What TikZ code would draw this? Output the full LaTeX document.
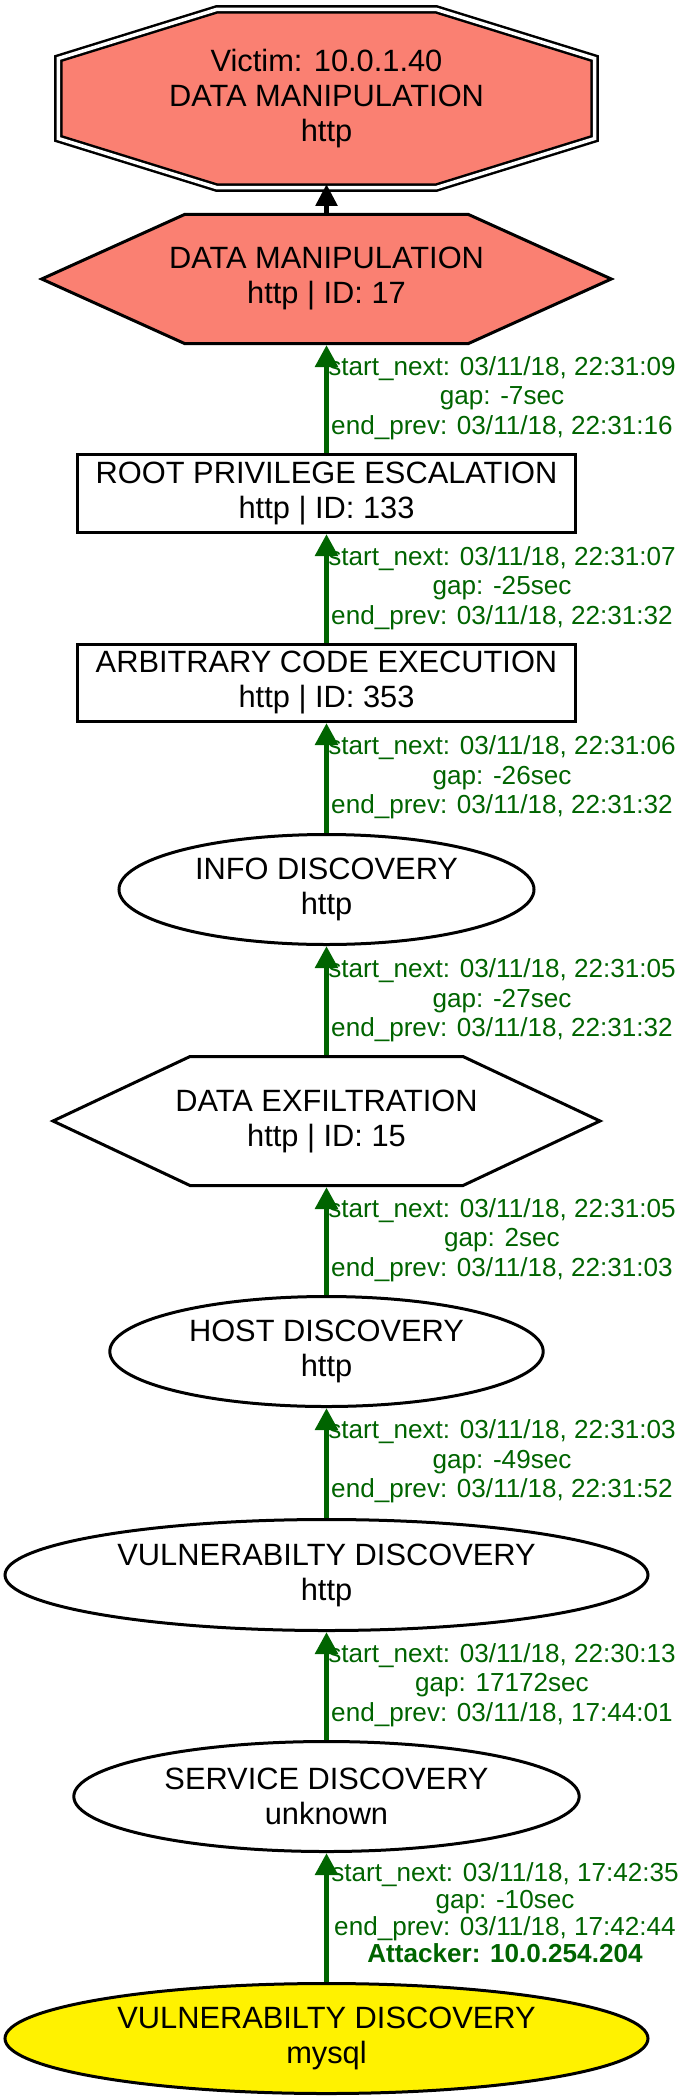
\documentclass[tikz,border=0pt]{standalone}
\usepackage{fontspec}
\setmainfont{Liberation Sans}
\usetikzlibrary{arrows.meta,shapes.geometric}
\definecolor{salmon}{RGB}{250,128,114}
\definecolor{edgegreen}{RGB}{0,100,0}
\begin{document}
\begin{tikzpicture}[x=1pt,y=-1pt,
  ntext/.style={font=\fontsize{30.8pt}{35pt}\selectfont, align=center, inner sep=0pt},
  ell/.style={ntext, ellipse, draw, line width=3pt},
  box/.style={ntext, rectangle, draw, line width=3pt},
  poly/.style={draw, line width=3pt},
  elab/.style={font=\fontsize{26.1pt}{29.5pt}\selectfont, text=edgegreen, align=center, inner sep=0pt},
  elabt/.style={elab, font=\fontsize{26.1pt}{27pt}\selectfont},
  gedge/.style={draw=edgegreen, line width=5.5pt, -{Triangle[length=22pt,width=22pt]}},
  bedge/.style={draw=black, line width=5.5pt, -{Triangle[length=22pt,width=21pt]}},
]
\useasboundingbox (0,0) rectangle (689,2100);

% victim octagon
\draw[line width=2.5pt, double=white, double distance=3.5pt, fill=salmon, shift={(326.5,98.5)}]
  (-109.5,-89.2) -- (109.5,-89.2) -- (268.2,-40) -- (268.2,40) -- (109.5,89.2) -- (-109.5,89.2) -- (-268.2,40) -- (-268.2,-40) -- cycle;
\node[ntext] (victim) at (326.5,98.5) {Victim: 10.0.1.40\\DATA MANIPULATION\\http};
\coordinate (victim-bot) at (326.5,184);

% data manipulation hexagon
\draw[poly, fill=salmon, shift={(326.5,279)}]
  (-284.8,0) -- (-142,-64.5) -- (142,-64.5) -- (284.8,0) -- (142,64.5) -- (-142,64.5) -- cycle;
\node[ntext] (dm) at (326.5,279) {DATA MANIPULATION\\http | ID: 17};
\coordinate (dm-top) at (326.5,213);
\coordinate (dm-bot) at (326.5,345);

% boxes
\node[box, minimum width=498pt, minimum height=78pt] (root) at (326.5,493.5) {ROOT PRIVILEGE ESCALATION\\http | ID: 133};
\node[box, minimum width=498pt, minimum height=77pt] (arb) at (326.5,683) {ARBITRARY CODE EXECUTION\\http | ID: 353};

% info discovery
\node[ell, minimum width=415pt, minimum height=110pt] (info) at (326.5,889.5) {INFO DISCOVERY\\http};

% data exfiltration hexagon
\draw[poly, fill=white, shift={(326.5,1121)}]
  (-273.5,0) -- (-136.5,-64.5) -- (136.5,-64.5) -- (273.5,0) -- (136.5,64.5) -- (-136.5,64.5) -- cycle;
\node[ntext] (exf) at (326.5,1121) {DATA EXFILTRATION\\http | ID: 15};
\coordinate (exf-top) at (326.5,1055);
\coordinate (exf-bot) at (326.5,1187);

% ellipses
\node[ell, minimum width=433.4pt, minimum height=110pt] (host) at (326.5,1351.5) {HOST DISCOVERY\\http};
\node[ell, minimum width=643pt, minimum height=111pt] (vuln) at (326.5,1575) {VULNERABILTY DISCOVERY\\http};
\node[ell, minimum width=505.4pt, minimum height=110pt] (serv) at (326.5,1796.5) {SERVICE DISCOVERY\\unknown};
\node[ell, fill=yellow, minimum width=643pt, minimum height=110pt] (att) at (326.5,2038.5) {VULNERABILTY DISCOVERY\\mysql};

% connectors
\draw[bedge] (dm-top) -- (victim-bot);
\draw[gedge] (root.north) -- (dm-bot);
\draw[gedge] (arb.north) -- (root.south);
\draw[gedge] (info.north) -- (arb.south);
\draw[gedge] (exf-top) -- (info.south);
\draw[gedge] (host.north) -- (exf-bot);
\draw[gedge] (vuln.north) -- (host.south);
\draw[gedge] (serv.north) -- (vuln.south);
\draw[gedge] (att.north) -- (serv.south);

% edge labels
\node[elab] (l1) at (502,398) {start\_next: 03/11/18, 22:31:09\\gap: -7sec\\end\_prev: 03/11/18, 22:31:16};
\node[elab] (l2) at (502,587.8) {start\_next: 03/11/18, 22:31:07\\gap: -25sec\\end\_prev: 03/11/18, 22:31:32};
\node[elab] (l3) at (502,777.3) {start\_next: 03/11/18, 22:31:06\\gap: -26sec\\end\_prev: 03/11/18, 22:31:32};
\node[elab] (l4) at (502,1000.3) {start\_next: 03/11/18, 22:31:05\\gap: -27sec\\end\_prev: 03/11/18, 22:31:32};
\node[elab] (l5) at (502,1239.8) {start\_next: 03/11/18, 22:31:05\\gap: 2sec\\end\_prev: 03/11/18, 22:31:03};
\node[elab] (l6) at (502,1461.3) {start\_next: 03/11/18, 22:31:03\\gap: -49sec\\end\_prev: 03/11/18, 22:31:52};
\node[elab] (l7) at (502,1684.8) {start\_next: 03/11/18, 22:30:13\\gap: 17172sec\\end\_prev: 03/11/18, 17:44:01};
\node[elabt] (l8) at (505,1913) {start\_next: 03/11/18, 17:42:35\\gap: -10sec\\end\_prev: 03/11/18, 17:42:44\\\textbf{Attacker: 10.0.254.204}};
\end{tikzpicture}
\end{document}
